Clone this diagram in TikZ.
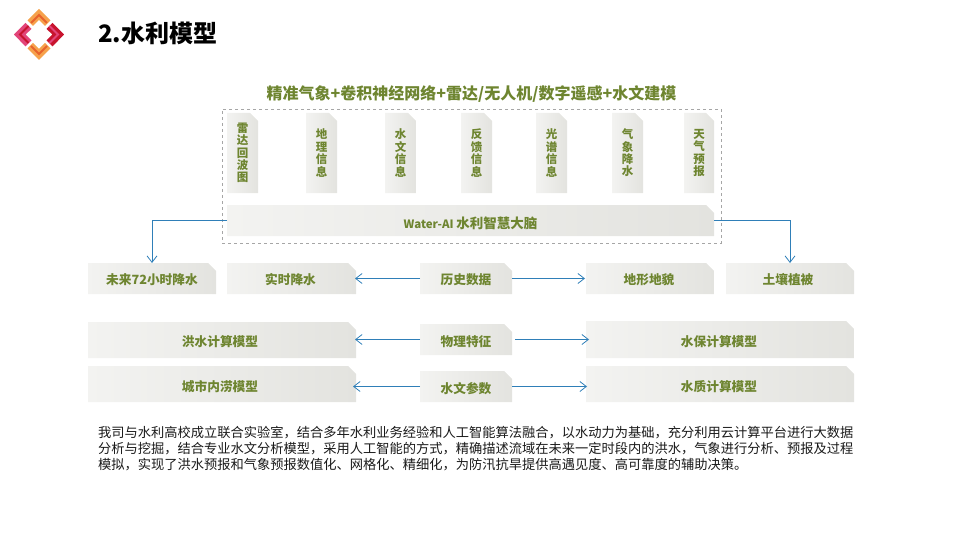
\documentclass[tikz,border=0pt]{standalone}
\usepackage{fontspec}
\setmainfont{Noto Sans CJK SC}
\usetikzlibrary{shapes.misc,arrows.meta}
\definecolor{olivetxt}{HTML}{6E8530}
\definecolor{flowblue}{HTML}{2F7FB8}
\definecolor{boxL}{HTML}{F3F3F1}
\definecolor{boxR}{HTML}{E3E3DF}
\definecolor{logoOrange}{HTML}{F6A24C}
\definecolor{logoDeep}{HTML}{E8622C}
\definecolor{logoPink}{HTML}{E2457A}
\definecolor{logoRed}{HTML}{C8142E}
\newcommand{\lowered}[2]{\raisebox{-#1pt}[\height][\depth]{#2}}
\tikzset{
  gbox/.style={chamfered rectangle,chamfered rectangle corners=north east,
    chamfered rectangle xsep=4pt,chamfered rectangle ysep=4pt,
    chamfered rectangle angle=45,
    left color=boxL,right color=boxR,draw=none,inner sep=0pt,outer sep=0pt,
    text=olivetxt,font=\fontsize{12.7}{14}\selectfont\bfseries,align=center},
  vbox/.style={gbox,minimum width=31pt,minimum height=80pt,font=\fontsize{11.5}{12.4}\selectfont\bfseries},
  flow/.style={draw=flowblue,line width=1pt,-{Straight Barb[length=6.5pt,width=10pt,line width=0.8pt]}},
  bodyline/.style={anchor=west,inner sep=0pt,text=black!90,font=\fontsize{13.25}{15}\selectfont},
  stripe/.style={line width=2pt,line join=miter},
}
\begin{document}
\begin{tikzpicture}[x=1pt,y=-1pt]
\useasboundingbox (0,0) rectangle (960,540);
% logo
\fill[logoOrange] (39,9) -- (50.5,20.5) -- (45,26) -- (39,20) -- (33,26) -- (27.5,20.5) -- cycle;
\draw[stripe,logoDeep] (31,23) -- (39,15) -- (47,23);
\fill[logoOrange] (39,60) -- (50.5,48.5) -- (45,43) -- (39,49) -- (33,43) -- (27.5,48.5) -- cycle;
\draw[stripe,logoDeep] (31,46) -- (39,54) -- (47,46);
\fill[logoPink] (14,34.5) -- (25.5,23) -- (31.5,29) -- (25.5,34.5) -- (31.5,40.5) -- (25.5,46.5) -- cycle;
\draw[stripe,logoRed] (28.5,26) -- (20,34.5) -- (28.5,43);
\fill[logoRed] (64,34.5) -- (52.5,23) -- (46.5,29) -- (52.5,34.5) -- (46.5,40.5) -- (52.5,46.5) -- cycle;
\draw[stripe,logoPink] (49.5,26) -- (58,34.5) -- (49.5,43);
% titles
\node[anchor=west,inner sep=0pt,font=\fontsize{24}{28}\selectfont\bfseries] (title) at (98,33) {2.水利模型};
\node[inner sep=0pt,text=olivetxt,font=\fontsize{16}{20}\selectfont\bfseries] (subtitle) at (471.5,94) {精准气象+卷积神经网络+雷达/无人机/数字遥感+水文建模};
% dashed frame
\node[draw=gray!70,dashed,line width=0.6pt,minimum width=499pt,minimum height=134pt,inner sep=0pt] (frame) at (471.5,176) {};
% vertical boxes
\node[vbox] (v1) at (242.5,153) {雷\\达\\回\\波\\图};
\node[vbox] (v2) at (321.5,153) {地\\理\\信\\息};
\node[vbox] (v3) at (400.5,153) {水\\文\\信\\息};
\node[vbox] (v4) at (476.5,153) {反\\馈\\信\\息};
\node[vbox] (v5) at (551.5,153) {光\\谱\\信\\息};
\node[vbox] (v6) at (627.5,153) {气\\象\\降\\水};
\node[vbox,minimum width=30pt] (v7) at (699,153) {天\\气\\预\\报};
\node[gbox,minimum width=487pt,minimum height=31pt] (brain) at (470.5,220.5) {\lowered{2.5}{\fontsize{11.5}{14}\selectfont Water-AI \fontsize{13.5}{14}\selectfont 水利智慧大脑}};
% row 1
\node[gbox,minimum width=128pt,minimum height=31pt] (r1a) at (152,278.5) {\lowered{1}{未来72小时降水}};
\node[gbox,minimum width=129pt,minimum height=31pt] (r1b) at (291.5,278.5) {\lowered{1}{\hspace*{-2pt}实时降水}};
\node[gbox,minimum width=92pt,minimum height=31pt] (r1c) at (466,278.5) {\lowered{1}{历史数据}};
\node[gbox,minimum width=128pt,minimum height=31pt] (r1d) at (650,278.5) {\lowered{1}{\hspace*{-2pt}地形地貌}};
\node[gbox,minimum width=128pt,minimum height=31pt] (r1e) at (790,278.5) {\lowered{1}{\hspace*{-4pt}土壤植被}};
% row 2
\node[gbox,minimum width=268pt,minimum height=36pt] (r2a) at (222,340) {\lowered{2}{\hspace*{-4pt}洪水计算模型}};
\node[gbox,minimum width=92pt,minimum height=31pt] (r2b) at (466,339.5) {\lowered{2}{物理特征}};
\node[gbox,minimum width=268pt,minimum height=37pt] (r2c) at (720,339.5) {\lowered{2}{\hspace*{-2pt}水保计算模型}};
% row 3
\node[gbox,minimum width=268pt,minimum height=36pt] (r3a) at (222,384) {\lowered{3}{\hspace*{-4pt}城市内涝模型}};
\node[gbox,minimum width=92pt,minimum height=31pt] (r3b) at (466,386.5) {\lowered{2}{水文参数}};
\node[gbox,minimum width=268pt,minimum height=36pt] (r3c) at (720,384) {\lowered{3}{\hspace*{-2pt}水质计算模型}};
% connectors
\draw[flow] (brain.west) -| (r1a.north);
\draw[flow] (brain.east) -| (r1e.north);
\draw[flow,shorten >=-1pt] (r1c.west) -- (r1b.east);
\draw[flow,shorten >=1pt] (r1c.east) -- (r1d.west);
\draw[flow,shorten >=-1pt,yshift=1pt] (r2b.west) -- (r2b.west -| r2a.east);
\draw[flow,shorten <=3pt,shorten >=-3pt,yshift=1pt] (r2b.east) -- (r2b.east -| r2c.west);
\draw[flow,shorten >=-3pt,yshift=1pt] (r3b.west) -- (r3b.west -| r3a.east);
\draw[flow,shorten >=-1pt,yshift=1pt] (r3b.east) -- (r3b.east -| r3c.west);
% body
\node[bodyline] (b1) at (98,432.5) {我司与水利高校成立联合实验室，结合多年水利业务经验和人工智能算法融合，以水动力为基础，充分利用云计算平台进行大数据};
\node[bodyline] (b2) at (98,449) {分析与挖掘，结合专业水文分析模型，采用人工智能的方式，精确描述流域在未来一定时段内的洪水，气象进行分析、预报及过程};
\node[bodyline] (b3) at (98,465) {模拟，实现了洪水预报和气象预报数值化、网格化、精细化，为防汛抗旱提供高遇见度、高可靠度的辅助决策。};
\end{tikzpicture}
\end{document}
